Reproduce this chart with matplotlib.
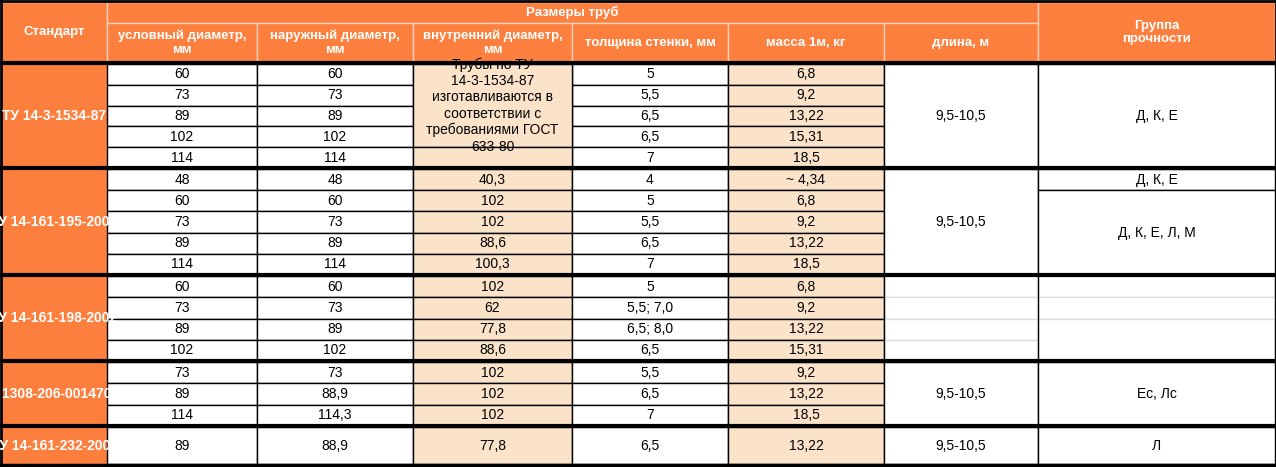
import matplotlib.pyplot as plt
from matplotlib.patches import Rectangle

plt.rcParams['font.family'] = ['Liberation Sans Narrow', 'Liberation Sans', 'DejaVu Sans']

ORANGE = '#fd7f3e'
PEACH = '#fbe3c9'

# table content
standards = ['ТУ 14-3-1534-87', 'ТУ 14-161-195-2002', 'ТУ 14-161-198-2002',
             'ТУ 1308-206-00147016', 'ТУ 14-161-232-2002']
nominal = [['60', '73', '89', '102', '114'], ['48', '60', '73', '89', '114'],
           ['60', '73', '89', '102'], ['73', '89', '114'], ['89']]
outer = [['60', '73', '89', '102', '114'], ['48', '60', '73', '89', '114'],
         ['60', '73', '89', '102'], ['73', '88,9', '114,3'], ['88,9']]
inner = [None, ['40,3', '102', '102', '88,6', '100,3'],
         ['102', '62', '77,8', '88,6'], ['102', '102', '102'], ['77,8']]
inner_note = 'Трубы по ТУ\n14-3-1534-87\nизготавливаются в\nсоответствии с\nтребованиями ГОСТ\n633-80'
wall = [['5', '5,5', '6,5', '6,5', '7'], ['4', '5', '5,5', '6,5', '7'],
        ['5', '5,5; 7,0', '6,5; 8,0', '6,5'], ['5,5', '6,5', '7'], ['6,5']]
mass = [['6,8', '9,2', '13,22', '15,31', '18,5'], ['~ 4,34', '6,8', '9,2', '13,22', '18,5'],
        ['6,8', '9,2', '13,22', '15,31'], ['9,2', '13,22', '18,5'], ['13,22']]
length = ['9,5-10,5', '9,5-10,5', '', '9,5-10,5', '9,5-10,5']
# strength group: list of (first row, row count, text)
strength = [[(0, 5, 'Д, К, Е')], [(0, 1, 'Д, К, Е'), (1, 4, 'Д, К, Е, Л, М')],
            [(0, 1, ''), (1, 1, ''), (2, 2, '')], [(0, 3, 'Ес, Лс')], [(0, 1, 'Л')]]
headers = ['условный диаметр,\nмм', 'наружный диаметр,\nмм', 'внутренний диаметр,\nмм',
           'толщина стенки, мм', 'масса 1м, кг', 'длина, м']

# layout (pixels)
xs = [1, 107, 257, 413, 572, 728, 884, 1038, 1275]
group_tops = [64, 169, 276, 362, 427]
group_rows = [5, 5, 4, 3, 1]
body_bottom = 464

fig = plt.figure(figsize=(12.76, 4.67), dpi=100)
ax = fig.add_axes([0, 0, 1, 1])
ax.set_xlim(0, 1276)
ax.set_ylim(467, 0)
ax.axis('off')
fig.patch.set_facecolor('white')


def cell(x0, x1, y0, y1, fc, text='', color='black', bold=False, clip=False, lw=1, ec='black', fs=9.5):
    r = Rectangle((x0, y0), x1 - x0, y1 - y0, facecolor=fc, edgecolor=ec, lw=lw)
    ax.add_patch(r)
    if text:
        t = ax.text((x0 + x1) / 2, (y0 + y1) / 2, text, ha='center', va='center',
                    color=color, fontsize=fs, fontweight='bold' if bold else 'normal',
                    linespacing=1.2)
        if clip:
            t.set_clip_path(r)


# header
cell(xs[0], xs[1], 2, 63, ORANGE, 'Стандарт', 'white', True, ec='#fbd0b8', fs=9.5)
cell(xs[1], xs[7], 2, 23, ORANGE, 'Размеры труб', 'white', True, ec='#fbd0b8', fs=9.5)
for i, h in enumerate(headers):
    cell(xs[i + 1], xs[i + 2], 23, 63, ORANGE, h, 'white', True, ec='#fbd0b8', fs=9.5)
cell(xs[7], xs[8], 2, 63, ORANGE, 'Группа\nпрочности', 'white', True, ec='#fbd0b8', fs=9.5)

for g in range(5):
    top = group_tops[g]
    bot = group_tops[g + 1] - 1 if g < 4 else body_bottom
    n = group_rows[g]
    h = (bot - top) / n
    ys = [top + k * h for k in range(n + 1)]
    cell(xs[0], xs[1], top, bot, ORANGE, standards[g], 'white', True, clip=True, ec=ORANGE, fs=10)
    for k in range(n):
        cell(xs[1], xs[2], ys[k], ys[k + 1], 'white', nominal[g][k], fs=10)
        cell(xs[2], xs[3], ys[k], ys[k + 1], 'white', outer[g][k], fs=10)
        if inner[g] is not None:
            cell(xs[3], xs[4], ys[k], ys[k + 1], PEACH, inner[g][k], fs=10)
        cell(xs[4], xs[5], ys[k], ys[k + 1], 'white', wall[g][k], fs=10)
        cell(xs[5], xs[6], ys[k], ys[k + 1], PEACH, mass[g][k], fs=10)
    if inner[g] is None:
        cell(xs[3], xs[4], ys[0], ys[4], PEACH, inner_note, clip=True, fs=10)
        cell(xs[3], xs[4], ys[4], ys[5], PEACH)
    if length[g]:
        cell(xs[6], xs[7], top, bot, 'white', length[g], fs=10)
    else:
        for k in range(n):
            cell(xs[6], xs[7], ys[k], ys[k + 1], 'white', ec='#dddddd')
        ax.plot([xs[6], xs[6]], [top, bot], color='black', lw=1)
        ax.plot([xs[7], xs[7]], [top, bot], color='black', lw=1)
    for start, cnt, txt in strength[g]:
        ec = 'black' if txt else '#dddddd'
        cell(xs[7], xs[8], ys[start], ys[start + cnt], 'white', txt, ec=ec, fs=10)
    if not length[g]:
        ax.plot([xs[8], xs[8]], [top, bot], color='black', lw=1)
    # thick separator
    ax.plot([0, 1276], [top - 1, top - 1], color='black', lw=3, solid_capstyle='butt')

ax.plot([0, 1276], [body_bottom + 1, body_bottom + 1], color='black', lw=2.5)
ax.plot([0.5, 0.5], [0, 467], color='black', lw=2)
ax.plot([1275.5, 1275.5], [0, 467], color='black', lw=2)
ax.plot([0, 1276], [1, 1], color='black', lw=2)

fig.savefig('out.png', dpi=100, facecolor='white')
